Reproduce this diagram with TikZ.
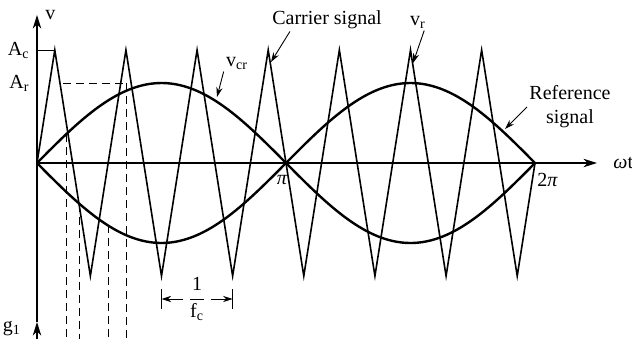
\documentclass[tikz,border=0pt]{standalone}
\usepackage{amsmath}
\usepackage{fontspec}
\setmainfont{Liberation Serif}
\usetikzlibrary{arrows.meta,positioning,calc}
\newcommand{\carrierperiod}{71.143}
\newcommand{\twopilen}{498}

\begin{document}
\begin{tikzpicture}[
  x=0.5pt, y=0.5pt,
  font=\normalsize,
  axis/.style={line width=0.55pt, -{Stealth[length=2.4mm, width=1.5mm]}},
  wave/.style={line width=0.8pt, line join=miter},
  refwave/.style={line width=1.2pt},
  guide/.style={line width=0.5pt, dash pattern=on 4pt off 2.5pt},
  lbl/.style={inner sep=1pt},
  pointer/.style={-{Stealth[length=1.7mm, width=1.1mm]}, line width=0.45pt},
]
  \useasboundingbox (-37,-176) rectangle (595,163);

  % axes
  \coordinate (O) at (0,0);
  \coordinate (vtop) at (0,148);
  \coordinate (gtop) at (0,-159);
  \coordinate (gbot) at (0,-176);
  \coordinate (wend) at (560,0);
  \coordinate (pi) at ({\twopilen/2},0);
  \coordinate (twopi) at (\twopilen,0);
  \draw[axis] (O) -- (wend);
  \draw[axis] (gtop) -- (vtop);
  \draw[axis] (gbot) -- (gtop);

  % carrier and reference signals
  \draw[wave] (O) \foreach \k in {0,...,6} { -- ({(\k+0.25)*\carrierperiod},113) -- ({(\k+0.75)*\carrierperiod},-113) } -- (twopi);
  \draw[refwave] plot[domain=0:\twopilen, samples=120, smooth] (\x,{80*sin(\x/\twopilen*360)});
  \draw[refwave] plot[domain=0:\twopilen, samples=120, smooth] (\x,{-80*sin(\x/\twopilen*360)});

  % amplitude marks
  \coordinate (Ac) at (0,113);
  \coordinate (Ar) at (0,80);
  \coordinate (Arstart) at (26,80);
  \coordinate (Arend) at (89,80);
  \draw[line width=0.45pt] (Ac) -- ({0.25*\carrierperiod},113);
  \draw[guide] (Arstart) -- (Arend);
  \foreach \xpos/\ypos [count=\i] in {29/28.6, 42/-40.5, 71/-62, 89/80} {
    \coordinate (d\i) at (\xpos,\ypos);
    \draw[guide] (d\i) -- (\xpos,-176);
  }

  % labels
  \node[lbl, right=3pt of vtop] (vlabel) {v};
  \node[lbl, left=2.5pt of Ac] (Aclabel) {A\textsubscript{c}};
  \node[lbl, left=2.5pt of Ar] (Arlabel) {A\textsubscript{r}};
  \node[lbl, anchor=west] (wtlabel) at (574,0) {\textit{ω}t};
  \node[lbl, below=5pt of pi, xshift=-2pt] (pilabel) {\textit{π}};
  \node[lbl, below right=4pt and 0pt of twopi] (twopilabel) {2\textit{π}};
  \node[lbl] (g1label) at (-25,-166) {g\textsubscript{1}};

  \node[lbl] (vcr) at (200,100) {v\textsubscript{cr}};
  \node[lbl] (carrier) at (290,143) {Carrier signal};
  \node[lbl] (vr) at (381,141) {v\textsubscript{r}};
  \node[lbl, align=center] (reference) at (533,56) {Reference\\signal};

  \coordinate (vcrtip) at (180,66);
  \coordinate (carriertip) at (234,101);
  \coordinate (vrtip) at (376,100);
  \coordinate (reftip) at (468,34);
  \draw[pointer] (vcr.south west) -- (vcrtip);
  \draw[pointer] ([xshift=10pt]carrier.south west) -- (carriertip);
  \draw[pointer] ([xshift=-2pt]vr.south east) -- (vrtip);
  \draw[pointer] (reference.west) -- (reftip);

  % carrier period
  \coordinate (tr1) at ({1.75*\carrierperiod},-136);
  \coordinate (tr2) at ({2.75*\carrierperiod},-136);
  \draw[line width=0.45pt] ($(tr1)+(0,10)$) -- ($(tr1)+(0,-10)$);
  \draw[line width=0.45pt] ($(tr2)+(0,10)$) -- ($(tr2)+(0,-10)$);
  \node[lbl, inner sep=2pt] (period) at ($(tr1)!0.5!(tr2)$) {$\dfrac{\text{1}}{\text{f}_\text{c}}$};
  \draw[pointer] (period.west) -- (tr1);
  \draw[pointer] (period.east) -- (tr2);
\end{tikzpicture}
\end{document}
